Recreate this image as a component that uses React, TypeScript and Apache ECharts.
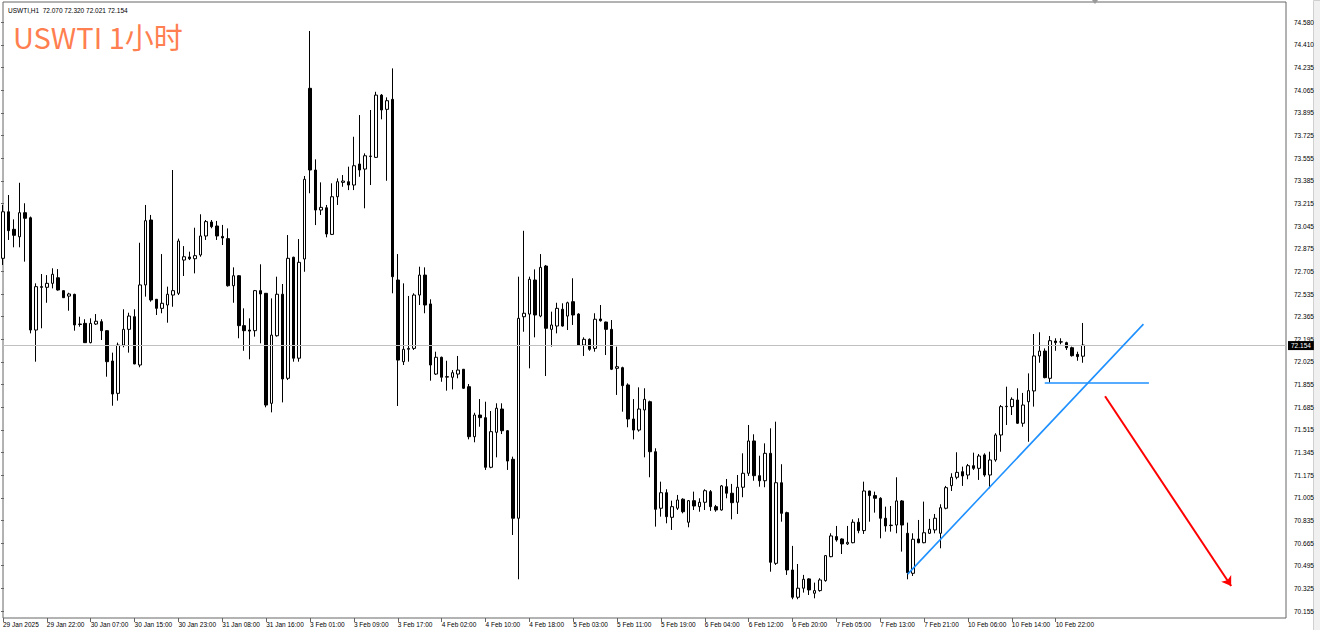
import React, { useEffect, useRef } from 'react';
import * as echarts from 'echarts';

// Trading sessions (day label, first hour, last hour) – hourly bars, 00:00 break each day
const sessions: [string, number, number][] = [
  ['29 Jan', 14, 23], ['30 Jan', 1, 23], ['31 Jan', 1, 23], ['3 Feb', 1, 23], ['4 Feb', 1, 23],
  ['5 Feb', 1, 23], ['6 Feb', 1, 23], ['7 Feb', 1, 23], ['10 Feb', 1, 23], ['11 Feb', 1, 4],
];
const times: string[] = [];
sessions.forEach(([d, a, b]) => {
  for (let h = a; h <= b; h++) times.push(`${d} ${String(h).padStart(2, '0')}:00`);
});

const open = [
  72.806, 73.156, 73.024, 72.968, 73.149, 73.111, 72.267, 72.593, 72.588, 72.618,
  72.660, 72.563, 72.522, 72.535, 72.312, 72.317, 72.172, 72.312, 72.330, 72.262,
  72.034, 71.791, 72.154, 72.272, 72.367, 72.004, 72.606, 73.094, 72.498, 72.430,
  72.455, 72.530, 72.543, 72.793, 72.816, 72.803, 72.831, 72.974, 73.079, 73.049,
  72.971, 72.954, 72.600, 72.675, 72.300, 72.267, 72.262, 72.563, 72.543, 71.716,
  72.224, 72.536, 71.904, 72.814, 72.055, 72.801, 74.084, 73.470, 73.169, 73.186,
  72.986, 73.269, 73.377, 73.382, 73.357, 73.515, 73.477, 73.572, 73.565, 74.033,
  73.926, 74.001, 72.643, 72.029, 72.122, 72.129, 72.530, 72.680, 72.463, 71.936,
  72.062, 71.916, 71.912, 71.936, 71.972, 71.841, 71.465, 71.628, 71.608, 71.235,
  71.498, 71.673, 71.510, 71.295, 70.852, 72.367, 72.387, 72.643, 72.372, 72.748,
  72.272, 72.297, 72.423, 72.372, 72.480, 72.387, 72.154, 72.197, 72.129, 72.350,
  72.327, 72.272, 71.979, 71.984, 71.854, 71.598, 71.515, 71.666, 71.728, 71.352,
  70.927, 71.044, 70.859, 70.927, 70.995, 70.822, 70.984, 70.939, 70.972, 71.052,
  70.939, 70.914, 71.089, 71.040, 70.972, 71.085, 71.190, 71.433, 71.172, 71.134,
  71.340, 70.513, 71.119, 70.894, 70.463, 70.258, 70.326, 70.396, 70.288, 70.308,
  70.383, 70.563, 70.714, 70.696, 70.659, 70.668, 70.822, 70.759, 71.057, 71.022,
  71.002, 70.852, 70.797, 70.801, 70.982, 70.739, 70.438, 70.696, 70.668, 70.739,
  70.764, 70.739, 70.927, 71.097, 71.160, 71.202, 71.177, 71.247, 71.227, 71.328,
  71.177, 71.290, 71.478, 71.691, 71.691, 71.741, 71.566, 71.728, 71.809, 72.072,
  72.109, 71.904, 72.184, 72.177, 72.172, 72.134, 72.084, 72.070,
];
const close = [
  73.156, 73.014, 72.979, 73.149, 73.107, 72.267, 72.593, 72.588, 72.618, 72.686,
  72.568, 72.510, 72.538, 72.305, 72.309, 72.172, 72.317, 72.333, 72.262, 72.029,
  71.786, 72.154, 72.272, 72.372, 72.012, 72.606, 73.089, 72.493, 72.430, 72.468,
  72.536, 72.563, 72.936, 72.818, 72.803, 72.826, 72.974, 73.082, 73.044, 72.974,
  72.959, 72.600, 72.675, 72.300, 72.262, 72.259, 72.563, 72.538, 71.703, 72.229,
  72.536, 71.899, 72.806, 72.055, 72.776, 73.400, 73.470, 73.169, 73.189, 72.989,
  73.269, 73.382, 73.387, 73.357, 73.502, 73.470, 73.577, 73.575, 74.033, 73.921,
  73.991, 72.668, 72.041, 72.122, 72.129, 72.530, 72.680, 72.455, 72.004, 72.062,
  71.912, 71.913, 71.946, 71.966, 71.829, 71.465, 71.628, 71.608, 71.235, 71.503,
  71.679, 71.510, 71.282, 70.852, 72.355, 72.393, 72.648, 72.380, 72.738, 72.280,
  72.305, 72.430, 72.297, 72.472, 72.380, 72.154, 72.197, 72.122, 72.348, 72.337,
  72.272, 71.972, 71.991, 71.849, 71.598, 71.515, 71.673, 71.746, 71.352, 70.919,
  71.044, 70.864, 70.939, 70.989, 70.901, 70.984, 70.944, 70.972, 71.059, 70.939,
  70.914, 71.095, 71.040, 70.969, 71.085, 71.190, 71.433, 71.172, 71.134, 71.340,
  70.521, 71.119, 70.889, 70.463, 70.258, 70.326, 70.393, 70.313, 70.308, 70.388,
  70.571, 70.719, 70.689, 70.659, 70.671, 70.822, 70.759, 71.057, 71.022, 71.002,
  70.852, 70.794, 70.800, 70.982, 70.801, 70.443, 70.694, 70.668, 70.743, 70.769,
  70.852, 70.931, 71.082, 71.160, 71.197, 71.170, 71.247, 71.227, 71.320, 71.177,
  71.290, 71.478, 71.691, 71.694, 71.746, 71.566, 71.703, 71.811, 72.072, 72.109,
  71.909, 72.187, 72.172, 72.178, 72.134, 72.074, 72.067, 72.154,
];
const low = [
  72.756, 72.944, 72.889, 72.889, 72.781, 72.242, 72.029, 72.280, 72.472, 72.580,
  72.563, 72.508, 72.412, 72.262, 72.292, 72.170, 72.167, 72.305, 72.192, 71.916,
  71.698, 71.736, 72.137, 72.097, 72.010, 71.987, 72.518, 72.480, 72.380, 72.393,
  72.322, 72.442, 72.530, 72.673, 72.793, 72.693, 72.818, 72.944, 73.032, 72.944,
  72.906, 72.593, 72.472, 72.205, 72.111, 72.047, 72.217, 72.167, 71.686, 71.648,
  72.217, 71.723, 71.891, 72.029, 72.029, 72.705, 73.295, 73.056, 73.132, 72.964,
  72.981, 73.207, 73.344, 73.319, 73.319, 73.419, 73.182, 73.357, 73.560, 73.851,
  73.389, 72.543, 71.696, 72.004, 72.029, 72.117, 72.455, 72.393, 71.886, 71.929,
  71.878, 71.811, 71.821, 71.904, 71.824, 71.445, 71.423, 71.540, 71.215, 71.228,
  71.310, 71.485, 71.215, 70.726, 70.393, 72.254, 71.979, 72.212, 72.363, 71.921,
  72.142, 72.242, 72.292, 72.267, 72.305, 72.147, 72.072, 72.111, 72.104, 72.330,
  72.079, 71.966, 71.779, 71.653, 71.536, 71.445, 71.503, 71.310, 71.160, 70.789,
  70.864, 70.814, 70.764, 70.914, 70.889, 70.784, 70.914, 70.901, 70.914, 70.907,
  70.901, 70.909, 71.002, 70.844, 70.884, 71.010, 71.170, 71.134, 71.089, 71.085,
  70.450, 70.501, 70.826, 70.426, 70.243, 70.243, 70.293, 70.275, 70.250, 70.300,
  70.375, 70.559, 70.676, 70.583, 70.651, 70.664, 70.739, 70.734, 70.826, 70.894,
  70.701, 70.751, 70.751, 70.739, 70.601, 70.393, 70.418, 70.664, 70.664, 70.734,
  70.739, 70.626, 70.919, 71.057, 71.145, 71.095, 71.145, 71.215, 71.140, 71.164,
  71.077, 71.277, 71.352, 71.553, 71.628, 71.561, 71.540, 71.427, 71.691, 72.021,
  71.904, 71.871, 72.111, 72.160, 72.117, 72.067, 72.036, 72.021,
];
const high = [
  73.207, 73.282, 73.099, 73.374, 73.220, 73.120, 72.618, 72.688, 72.680, 72.731,
  72.725, 72.565, 72.547, 72.540, 72.367, 72.348, 72.355, 72.387, 72.348, 72.265,
  72.097, 72.172, 72.423, 72.397, 72.423, 72.923, 73.207, 73.132, 72.500, 72.838,
  72.593, 73.470, 72.954, 72.898, 72.856, 73.036, 73.137, 73.094, 73.094, 73.087,
  73.057, 73.031, 72.738, 72.680, 72.430, 72.355, 72.568, 72.761, 72.545, 72.505,
  72.668, 72.613, 72.981, 72.818, 72.951, 73.425, 74.515, 73.550, 73.377, 73.207,
  73.370, 73.407, 73.432, 73.495, 73.720, 73.883, 73.595, 73.921, 74.058, 74.041,
  74.016, 74.234, 72.838, 72.618, 72.523, 72.543, 72.743, 72.738, 72.498, 72.104,
  72.067, 72.036, 71.966, 72.072, 71.974, 71.861, 71.645, 71.748, 71.728, 71.658,
  71.716, 71.716, 71.515, 71.315, 72.668, 73.013, 72.668, 72.723, 72.838, 72.756,
  72.405, 72.472, 72.468, 72.480, 72.656, 72.393, 72.212, 72.204, 72.393, 72.455,
  72.330, 72.342, 72.142, 71.991, 71.866, 71.748, 71.836, 71.829, 71.736, 71.378,
  71.127, 71.070, 70.984, 71.027, 71.002, 70.989, 71.052, 71.002, 71.070, 71.064,
  70.952, 71.102, 71.147, 71.110, 71.177, 71.340, 71.553, 71.483, 71.322, 71.415,
  71.528, 71.578, 71.258, 70.901, 70.644, 70.508, 70.426, 70.401, 70.368, 70.401,
  70.575, 70.739, 70.794, 70.701, 70.794, 70.844, 70.852, 71.127, 71.059, 71.052,
  71.010, 70.939, 70.944, 71.160, 70.989, 70.819, 70.739, 70.839, 70.977, 70.847,
  70.884, 70.957, 71.095, 71.190, 71.348, 71.240, 71.260, 71.345, 71.335, 71.340,
  71.352, 71.491, 71.703, 71.841, 71.761, 71.829, 71.794, 71.941, 72.237, 72.250,
  72.129, 72.222, 72.205, 72.205, 72.179, 72.142, 72.104, 72.320,
];

// price-scale tick labels, bottom to top
const yTickLabels = [
  '70.155', '70.325', '70.495', '70.665', '70.835', '71.005', '71.175', '71.345', '71.515',
  '71.685', '71.855', '72.025', '72.195', '72.365', '72.535', '72.705', '72.875', '73.045',
  '73.215', '73.385', '73.555', '73.725', '73.895', '74.065', '74.235', '74.410', '74.580',
];

const symbolName = 'USWTI,H1';
const lastBarText = '72.070 72.320 72.021 72.154';
const titleText = 'USWTI 1小时';
const lastPrice = 72.154;
const priceRange = [70.102, 74.733];
const emptyBarsRight = 37;

// drawn objects: [bar index, price]
const trendLine = [[165, 70.432], [208, 72.311]];
const levelLine = [[190, 71.871], [209, 71.871]];
const arrowLine = [[201, 71.769], [224, 70.343]];

const FONT = '"Liberation Sans", Arial, sans-serif';

export default function App() {
  const ref = useRef<HTMLDivElement>(null);
  useEffect(() => {
    if (!ref.current) return;
    const chart = echarts.init(ref.current, null, { renderer: 'svg' });
    const categories = [...times, ...Array.from({ length: emptyBarsRight }, () => '')];
    const candleData = times.map((_, i) => [open[i], close[i], low[i], high[i]]);
    const small = { fontSize: 6.5, fontFamily: FONT, color: '#000' };
    const showIdx = (i: number, v: string) => v !== '' && i % 8 === 0;

    chart.setOption({
      animation: false,
      backgroundColor: '#ffffff',
      title: [
        {
          text: `${symbolName}  ${lastBarText}`,
          left: 3, top: 2,
          textStyle: { ...small, fontWeight: 'normal' },
        },
        {
          text: titleText,
          left: 8, top: 16,
          textStyle: { fontSize: 29, fontWeight: 'normal', color: '#FF7F50', fontFamily: '"Noto Sans CJK SC", sans-serif' },
        },
      ],
      grid: [
        { left: 1, right: 34, top: 2, bottom: 12, show: true, borderColor: '#666', borderWidth: 1 },
        { left: 1, right: 34, top: 22.3, bottom: 19, show: false },
      ],
      xAxis: [
        {
          type: 'category', gridIndex: 0, data: categories, boundaryGap: false,
          axisLine: { show: false },
          axisTick: { show: true, interval: showIdx, length: 4, lineStyle: { color: '#666' } },
          axisLabel: {
            interval: showIdx, align: 'left', margin: 3, ...small,
            formatter: (v: string, i: number) => (i === 0 ? '29 Jan 2025' : v),
          },
          splitLine: { show: false },
        },
        { type: 'value', gridIndex: 1, min: 0, max: 1, show: false },
      ],
      yAxis: [
        { type: 'value', gridIndex: 0, min: priceRange[0], max: priceRange[1], show: false },
        {
          type: 'value', gridIndex: 1, min: 0, max: yTickLabels.length - 1, interval: 1, position: 'right',
          axisLine: { show: false },
          axisTick: { show: true, length: 3, lineStyle: { color: '#666' } },
          splitLine: { show: false },
          axisLabel: { margin: 8, ...small, formatter: (v: number) => yTickLabels[Math.round(v)] ?? '' },
        },
      ],
      series: [
        {
          type: 'candlestick',
          xAxisIndex: 0, yAxisIndex: 0,
          data: candleData,
          barWidth: 3,
          silent: true,
          itemStyle: { color: '#ffffff', color0: '#000000', borderColor: '#000000', borderColor0: '#000000', borderWidth: 1 },
          markLine: {
            silent: true,
            animation: false,
            symbol: ['none', 'none'],
            label: { show: false },
            data: [
              {
                yAxis: lastPrice,
                lineStyle: { color: '#c0c0c0', width: 1, type: 'solid' },
                label: {
                  show: true, position: 'end', formatter: lastPrice.toFixed(3), distance: 2,
                  color: '#fff', backgroundColor: '#000', padding: [1, 3, 1, 3], fontSize: 6.5, fontFamily: FONT,
                },
              },
              [
                { coord: trendLine[0], lineStyle: { color: '#1E90FF', width: 1.6, type: 'solid' } },
                { coord: trendLine[1] },
              ],
              [
                { coord: levelLine[0], lineStyle: { color: '#1E90FF', width: 1.6, type: 'solid' } },
                { coord: levelLine[1] },
              ],
              [
                { coord: arrowLine[0], symbol: 'none', lineStyle: { color: '#FF0000', width: 2, type: 'solid' } },
                { coord: arrowLine[1], symbol: 'arrow', symbolSize: 9 },
              ],
            ],
          },
        },
      ],
      graphic: [
        { type: 'rect', left: 1313, top: 0, shape: { width: 7, height: 630 }, style: { fill: '#f0f0f0', stroke: '#d0d0d0' }, silent: true },
        { type: 'polygon', shape: { points: [[1092, 0], [1098, 0], [1095, 4]] }, style: { fill: '#999' }, silent: true },
      ],
    });
    return () => chart.dispose();
  }, []);
  return <div ref={ref} style={{ position: 'fixed', left: 0, top: 0, width: 1320, height: 630 }} />;
}
